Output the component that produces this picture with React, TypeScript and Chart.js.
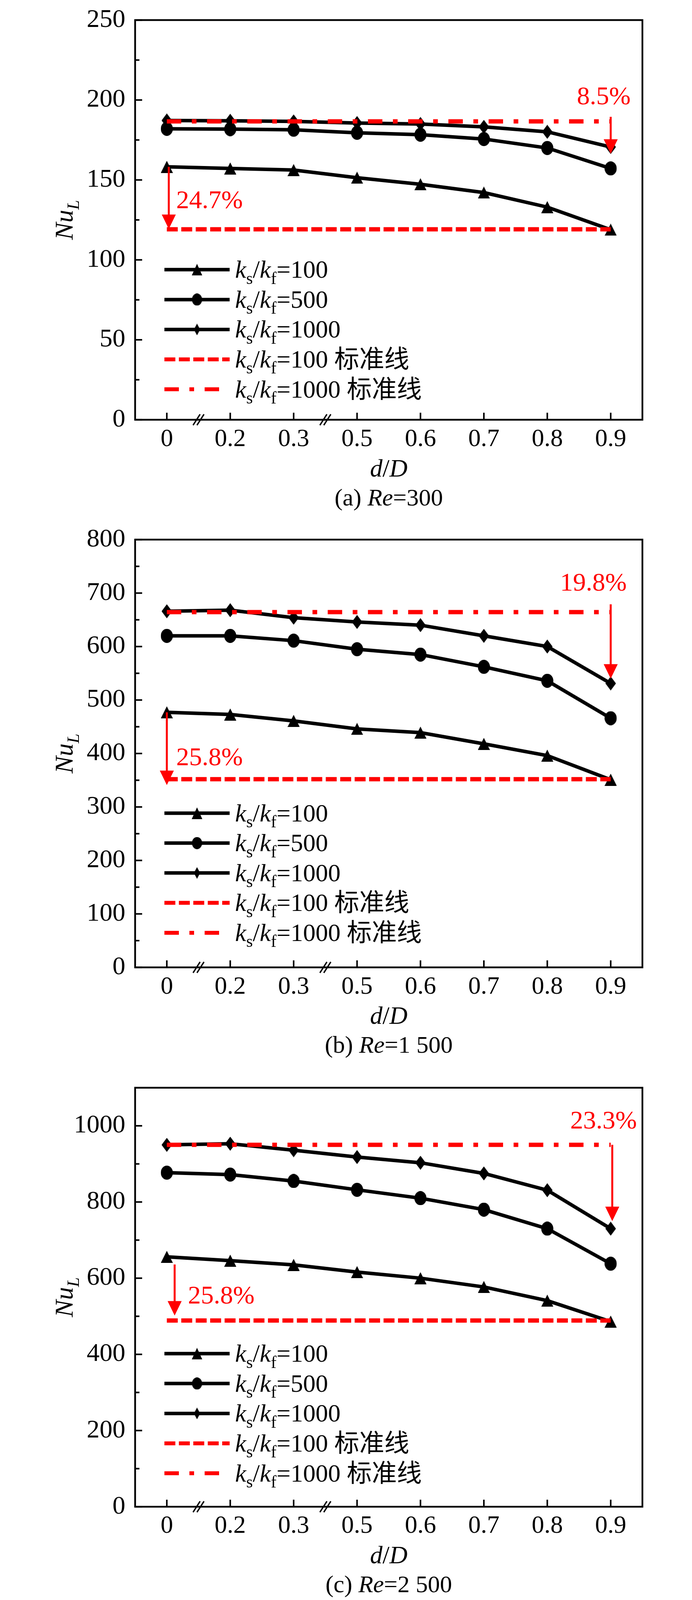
import React, { useEffect, useRef } from "react";
import { Chart, registerables } from "chart.js";

Chart.register(...registerables);

const FONT = "'Liberation Serif', 'Times New Roman', 'Noto Sans CJK SC', serif";

// ---- shared ----
const categories = ["0", "0.2", "0.3", "0.5", "0.6", "0.7", "0.8", "0.9"];
const legendTails = ["=100", "=500", "=1000", "=100 标准线", "=1000 标准线"];

// ---- (a) Re=300 ----
const a100 = [158.2, 157.2, 156.2, 151.4, 147.3, 142.1, 133.0, 118.9];
const a500 = [182.0, 181.8, 181.4, 179.5, 178.3, 175.6, 170.0, 157.2];
const a1000 = [187.2, 187.0, 186.6, 185.6, 185.0, 183.2, 180.1, 170.6];
const aStd = [119.1, 186.6]; // k=100 standard line, k=1000 standard line
const aLowArrow = [158.2, 119.3];
const aHighArrow = [189.5, 166.4];
const aPct = ["24.7%", "8.5%"];
const aPctY = [137.6, 202.7];
const aAxis = [0, 250, 50];

// ---- (b) Re=1 500 ----
const b100 = [477, 473, 461, 446, 439, 418, 396, 351];
const b500 = [620, 620, 611, 595, 585, 562, 536, 466];
const b1000 = [666, 668, 654, 646, 640, 620, 600, 531];
const bStd = [352, 664.5];
const bLowArrow = [477, 341];
const bHighArrow = [679, 540];
const bPct = ["25.8%", "19.8%"];
const bPctY = [394, 721];
const bAxis = [0, 800, 100];

// ---- (c) Re=2 500 ----
const c100 = [656, 646, 635, 616, 600, 577, 541, 486];
const c500 = [877, 872, 855, 832, 810, 780, 730, 638];
const c1000 = [950, 953, 936, 918, 903, 875, 831, 730];
const cStd = [489, 950];
const cLowArrow = [636, 502];
const cHighArrow = [950, 750];
const cPct = ["25.8%", "23.3%"];
const cPctY = [556, 1015];
const cAxis = [0, 1100, 200];

// The browser viewport is only 4096 px tall, so the 4254 px layout is compressed vertically to fit.
const VS = 4096 / 4254;

type Seg = { t: string; it?: boolean; sub?: boolean };

function fontStr(s: Seg, size: number) {
  const sz = s.sub ? size * 0.68 : size;
  return `${s.it ? "italic " : ""}${sz}px ${FONT}`;
}

function drawRich(
  ctx: CanvasRenderingContext2D,
  segs: Seg[],
  x: number,
  y: number,
  size: number,
  align: "left" | "center" | "right",
  color: string
) {
  ctx.save();
  ctx.fillStyle = color;
  ctx.textBaseline = "alphabetic";
  ctx.textAlign = "left";
  const widths = segs.map((s) => {
    ctx.font = fontStr(s, size);
    return ctx.measureText(s.t).width;
  });
  const total = widths.reduce((p, c) => p + c, 0);
  let cx = align === "center" ? x - total / 2 : align === "right" ? x - total : x;
  segs.forEach((s, i) => {
    ctx.font = fontStr(s, size);
    ctx.fillText(s.t, cx, s.sub ? y + size * 0.24 : y);
    cx += widths[i];
  });
  ctx.restore();
}

function makeMarker(kind: "tri" | "ell" | "rho", w: number, h: number) {
  const c = document.createElement("canvas");
  c.width = w;
  c.height = h;
  const g = c.getContext("2d")!;
  g.fillStyle = "#000";
  g.beginPath();
  if (kind === "tri") {
    g.moveTo(w / 2, 0);
    g.lineTo(w, h);
    g.lineTo(0, h);
  } else if (kind === "ell") {
    g.ellipse(w / 2, h / 2, w / 2, h / 2, 0, 0, Math.PI * 2);
  } else {
    g.moveTo(w / 2, 0);
    g.lineTo(w, h / 2);
    g.lineTo(w / 2, h);
    g.lineTo(0, h / 2);
  }
  g.closePath();
  g.fill();
  return c;
}

type Panel = {
  letter: string;
  re: string;
  k100: number[];
  k500: number[];
  k1000: number[];
  std: number[];
  lowArrow: number[];
  highArrow: number[];
  pct: string[];
  pctY: number[];
  axis: number[];
  canvasTop: number;
  canvasEnd: number;
  refTop: number;
  refBottom: number;
  refLegend: number;
  lowArrowDx: number;
  highArrowDx: number;
  lowLabelDx: number;
  highLabelDx: number;
};

const panels: Panel[] = [
  {
    letter: "(a) ", re: "=300", k100: a100, k500: a500, k1000: a1000, std: aStd,
    lowArrow: aLowArrow, highArrow: aHighArrow, pct: aPct, pctY: aPctY, axis: aAxis,
    canvasTop: 0, canvasEnd: 1330, refTop: 33, refBottom: 1116, refLegend: 717,
    lowArrowDx: 5, highArrowDx: 0, lowLabelDx: 24, highLabelDx: 51,
  },
  {
    letter: "(b) ", re: "=1 500", k100: b100, k500: b500, k1000: b1000, std: bStd,
    lowArrow: bLowArrow, highArrow: bHighArrow, pct: bPct, pctY: bPctY, axis: bAxis,
    canvasTop: 1330, canvasEnd: 2715, refTop: 1425, refBottom: 2572, refLegend: 2162,
    lowArrowDx: 0, highArrowDx: 0, lowLabelDx: 24, highLabelDx: 41,
  },
  {
    letter: "(c) ", re: "=2 500", k100: c100, k500: c500, k1000: c1000, std: cStd,
    lowArrow: cLowArrow, highArrow: cHighArrow, pct: cPct, pctY: cPctY, axis: cAxis,
    canvasTop: 2715, canvasEnd: 4096, refTop: 2892, refBottom: 4006, refLegend: 3599,
    lowArrowDx: 20, highArrowDx: 4, lowLabelDx: 54, highLabelDx: 67,
  },
];

const RED = "#ff0000";
const DASH = [28, 9];
const DASHDOT = [37, 27, 12, 27];

function PanelChart({ p }: { p: Panel }) {
  const ref = useRef<HTMLCanvasElement>(null);
  const height = p.canvasEnd - p.canvasTop;

  useEffect(() => {
    const canvas = ref.current!;
    const tri = makeMarker("tri", 31, 31);
    const ell = makeMarker("ell", 31, 36);
    const rho = makeMarker("rho", 27, 36);
    const triS = makeMarker("tri", 27, 30);
    const ellS = makeMarker("ell", 26, 31);
    const rhoS = makeMarker("rho", 16, 30);
    const padTop = p.refTop * VS - p.canvasTop;
    const xAxisH = p.canvasEnd - p.refBottom * VS;
    const legendFirst = (p.refLegend - p.refBottom) * VS;
    const legendStep = 79.5 * VS;

    const line = (ctx: CanvasRenderingContext2D, x1: number, y1: number, x2: number, y2: number) => {
      ctx.beginPath();
      ctx.moveTo(x1, y1);
      ctx.lineTo(x2, y2);
      ctx.stroke();
    };

    const arrow = (ctx: CanvasRenderingContext2D, x: number, y1: number, y2: number) => {
      const head = 37;
      const half = 18;
      ctx.save();
      ctx.strokeStyle = RED;
      ctx.fillStyle = RED;
      ctx.lineWidth = 5;
      ctx.setLineDash([]);
      line(ctx, x, y1, x, y2 - head + 2);
      ctx.beginPath();
      ctx.moveTo(x - half, y2 - head);
      ctx.lineTo(x + half, y2 - head);
      ctx.lineTo(x, y2);
      ctx.closePath();
      ctx.fill();
      ctx.restore();
    };

    const decor = {
      id: "decor",
      afterDraw(chart: any) {
        const ctx: CanvasRenderingContext2D = chart.ctx;
        const { left, right, top, bottom } = chart.chartArea;
        const xs = chart.scales.x;
        const ys = chart.scales.y;
        const [, yMax, yStep] = p.axis;
        ctx.save();
        ctx.setLineDash([]);
        ctx.strokeStyle = "#000";
        ctx.lineCap = "butt";

        // inward major / minor ticks
        ctx.lineWidth = 4;
        ys.ticks.forEach((t: any) => {
          const y = ys.getPixelForValue(t.value);
          line(ctx, left, y, left + 18, y);
        });
        for (let v = yStep / 2; v < yMax; v += yStep) {
          const y = ys.getPixelForValue(v);
          line(ctx, left, y, left + 11, y);
        }
        categories.forEach((_, i) => {
          const x = xs.getPixelForValue(i);
          line(ctx, x, bottom, x, bottom - 18);
        });

        // frame
        ctx.lineWidth = 4.5;
        ctx.strokeRect(left, top, right - left, bottom - top);

        // axis breaks
        ctx.lineWidth = 3.5;
        [0, 2].forEach((i) => {
          const xm = (xs.getPixelForValue(i) + xs.getPixelForValue(i + 1)) / 2;
          [-5, 5].forEach((d) => line(ctx, xm + d - 9, bottom + 14, xm + d + 9, bottom - 14));
        });

        // arrows and percentages
        const x0 = xs.getPixelForValue(0);
        const x7 = xs.getPixelForValue(categories.length - 1);
        arrow(ctx, x0 + p.lowArrowDx, ys.getPixelForValue(p.lowArrow[0]), ys.getPixelForValue(p.lowArrow[1]));
        arrow(ctx, x7 + p.highArrowDx, ys.getPixelForValue(p.highArrow[0]), ys.getPixelForValue(p.highArrow[1]));
        drawRich(ctx, [{ t: p.pct[0] }], x0 + p.lowLabelDx, ys.getPixelForValue(p.pctY[0]) + 22, 66, "left", RED);
        drawRich(ctx, [{ t: p.pct[1] }], x7 + p.highLabelDx, ys.getPixelForValue(p.pctY[1]) + 22, 66, "right", RED);

        // legend
        const lx1 = left + 75;
        const lx2 = left + 242;
        const lmid = (lx1 + lx2) / 2;
        const tx = left + 256;
        const smalls = [triS, ellS, rhoS];
        legendTails.forEach((tail, i) => {
          const y = bottom + legendFirst + i * legendStep;
          ctx.save();
          if (i < 3) {
            ctx.strokeStyle = "#000";
            ctx.lineWidth = 9;
            ctx.setLineDash([]);
            line(ctx, lx1, y, lx2, y);
            const m = smalls[i];
            ctx.drawImage(m, lmid - m.width / 2, y - m.height / 2);
          } else {
            ctx.strokeStyle = RED;
            ctx.lineWidth = 10;
            ctx.setLineDash(i === 3 ? DASH : DASHDOT);
            line(ctx, lx1, y, lx2, y);
          }
          ctx.restore();
          drawRich(
            ctx,
            [{ t: "k", it: true }, { t: "s", sub: true }, { t: "/" }, { t: "k", it: true }, { t: "f", sub: true }, { t: tail }],
            tx,
            y + 21,
            64,
            "left",
            "#000"
          );
        });

        // axis titles and caption
        ctx.save();
        ctx.translate(left - 182, (top + bottom) / 2);
        ctx.rotate(-Math.PI / 2);
        drawRich(ctx, [{ t: "Nu", it: true }, { t: "L", it: true, sub: true }], 0, 22, 66, "center", "#000");
        ctx.restore();
        drawRich(ctx, [{ t: "d", it: true }, { t: "/" }, { t: "D", it: true }], (left + right) / 2, bottom + 145, 64, "center", "#000");
        drawRich(ctx, [{ t: p.letter }, { t: "Re", it: true }, { t: p.re }], (left + right) / 2, bottom + 219, 62, "center", "#000");
        ctx.restore();
      },
    };

    const blackSeries = (data: number[], pointStyle: any) => ({
      data,
      borderColor: "#000",
      backgroundColor: "#000",
      borderWidth: 9,
      pointStyle,
      pointRadius: 16,
      pointBackgroundColor: "#000",
      pointBorderColor: "#000",
      pointBorderWidth: 0,
      tension: 0,
    });

    const stdSeries = (value: number, dash: number[]) => ({
      data: categories.map(() => value),
      borderColor: RED,
      borderWidth: 11,
      borderDash: dash,
      pointRadius: 0,
      tension: 0,
    });

    const chart = new Chart(canvas, {
      type: "line",
      data: {
        labels: categories,
        datasets: [
          stdSeries(p.std[1], DASHDOT),
          stdSeries(p.std[0], DASH),
          blackSeries(p.k1000, rho),
          blackSeries(p.k500, ell),
          blackSeries(p.k100, tri),
        ] as any,
      },
      options: {
        animation: false,
        responsive: false,
        devicePixelRatio: 1,
        events: [],
        layout: { padding: { top: padTop, right: 127, bottom: 0, left: 0 } },
        plugins: { legend: { display: false }, tooltip: { enabled: false } },
        scales: {
          x: {
            type: "category",
            offset: true,
            grid: { display: false, drawTicks: false },
            border: { display: false },
            ticks: {
              color: "#000",
              font: { family: FONT, size: 64 },
              padding: 12,
              maxRotation: 0,
              autoSkip: false,
            },
            afterFit: (s: any) => {
              s.height = xAxisH;
            },
          },
          y: {
            min: p.axis[0],
            max: p.axis[1],
            grid: { display: false, drawTicks: false },
            border: { display: false },
            ticks: {
              stepSize: p.axis[2],
              includeBounds: false,
              color: "#000",
              font: { family: FONT, size: 66, lineHeight: 0.8 },
              padding: 25,
              callback: (v: any) => String(v),
            },
            afterFit: (s: any) => {
              s.width = 346;
            },
          },
        },
      } as any,
      plugins: [decor],
    });
    return () => chart.destroy();
  }, [p]);

  return (
    <canvas
      ref={ref}
      width={1772}
      height={height}
      style={{ position: "absolute", left: 0, top: p.canvasTop, width: "1772px", height: `${height}px` }}
    />
  );
}

export default function App() {
  return (
    <div style={{ position: "absolute", left: 0, top: 0, width: 1772, height: 4096, background: "#fff" }}>
      {panels.map((p, i) => (
        <PanelChart key={i} p={p} />
      ))}
    </div>
  );
}
